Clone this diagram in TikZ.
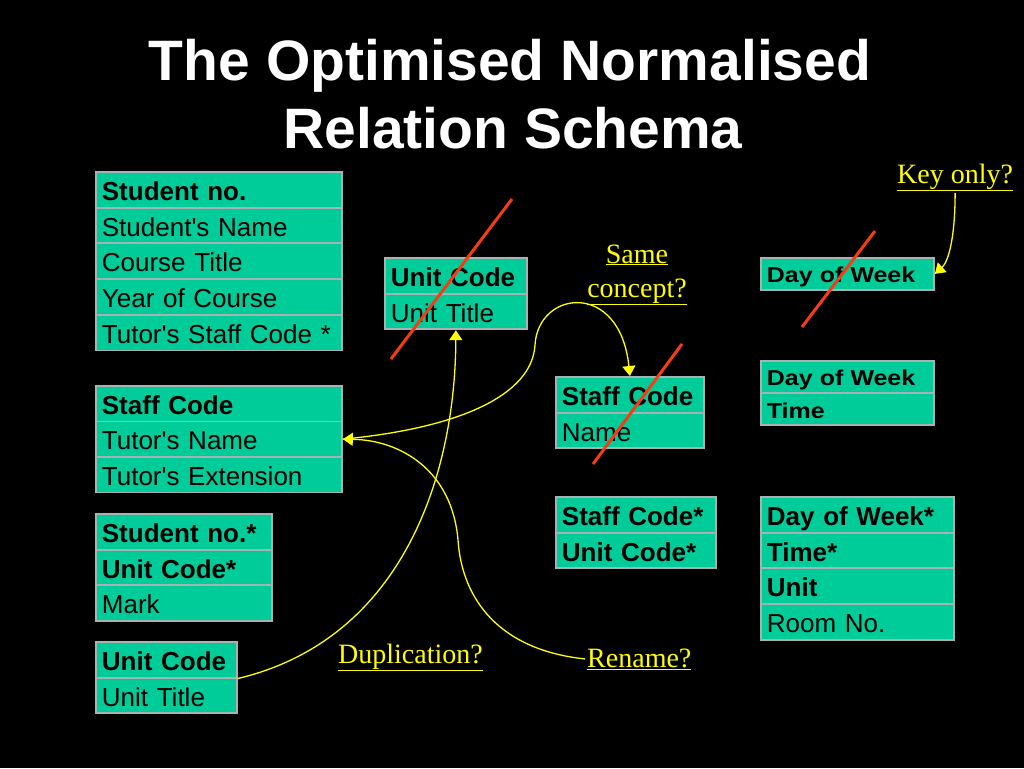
\documentclass[tikz,border=0pt]{standalone}
\usepackage{fontspec}
\setmainfont{Liberation Sans}
\newfontfamily\timesf{Liberation Serif}
\newfontfamily\dowf[FakeStretch=1.16]{Liberation Sans}
\usetikzlibrary{arrows.meta}
\newcommand\fsz[1]{\fontsize{#1}{#1}\selectfont}
\newcommand\apos{\XeTeXglyph\XeTeXcharglyph"0027\relax}
\definecolor{cellgreen}{RGB}{0,204,153}
\definecolor{cellborder}{RGB}{165,180,178}
\definecolor{strikered}{RGB}{245,60,20}
\definecolor{annoyellow}{RGB}{255,255,0}
\tikzset{
  cell/.style={rectangle, draw=cellborder, fill=cellgreen, line width=1.8pt,
    anchor=north west, inner xsep=6pt, inner ysep=0pt, text width=#1,
    minimum height=35.7pt, text height=21.3pt, text depth=0pt, align=left,
    font=\fsz{26}, text=black},
  smallcell/.style={cell=#1, minimum height=32pt, text height=18pt, font=\dowf\fsz{21.5}},
  strike/.style={draw=strikered, line width=3pt},
  anno/.style={font=\timesf\fsz{28}, text=annoyellow, inner sep=2pt},
  link/.style={draw=annoyellow, line width=1.3pt},
  tip/.style={-{Triangle[width=13pt,length=10pt]}},
  titletext/.style={font=\bfseries\fsz{57}, text=white, anchor=base},
}
\begin{document}
\begin{tikzpicture}[x=1pt,y=-1pt]
\fill[black] (0,0) rectangle (1024,768);
\useasboundingbox (0,0) rectangle (1024,768);

% title
\node[titletext] (title1) at (510,80) {The Optimised Normalised};
\node[titletext] (title2) at (513,148) {Relation Schema};

% T1 student
\node[cell=234pt] (t1a) at (95,171)   {\bfseries Student no.};
\node[cell=234pt] (t1b) at (95,206.7) {Student\apos s Name};
\node[cell=234pt] (t1c) at (95,242.4) {Course Title};
\node[cell=234pt] (t1d) at (95,278.1) {Year of Course};
\node[cell=234pt] (t1e) at (95,313.8) {Tutor\apos s Staff Code *};

% T2 staff
\node[cell=234pt, minimum height=35.5pt] (t2a) at (95,385)   {\bfseries Staff Code};
\node[cell=234pt, minimum height=35.5pt] (t2b) at (95,420.5) {Tutor\apos s Name};
\node[cell=234pt, minimum height=35.5pt] (t2c) at (95,456)   {Tutor\apos s Extension};

% T3 marks
\node[cell=164pt] (t3a) at (95,513)   {\bfseries Student no.*};
\node[cell=164pt] (t3b) at (95,548.7) {\bfseries Unit Code*};
\node[cell=164pt] (t3c) at (95,584.4) {Mark};

% T4 unit bottom
\node[cell=129pt] (t4a) at (95,641)   {\bfseries Unit Code};
\node[cell=129pt] (t4b) at (95,676.7) {Unit Title};

% T5 unit middle
\node[cell=130pt] (t5a) at (384,257)   {\bfseries Unit Code};
\node[cell=130pt] (t5b) at (384,292.7) {Unit Title};

% T6 staff crossed
\node[cell=136pt] (t6a) at (555,376)   {\bfseries Staff Code};
\node[cell=136pt] (t6b) at (555,411.7) {Name};

% T7 staff/unit
\node[cell=148pt] (t7a) at (555,496)   {\bfseries Staff Code*};
\node[cell=148pt] (t7b) at (555,531.7) {\bfseries Unit Code*};

% T8 day of week only
\node[smallcell=161pt] (t8a) at (760,257) {\bfseries Day of Week};

% T9 day/time
\node[smallcell=161pt] (t9a) at (760,360)   {\bfseries Day of Week};
\node[smallcell=161pt] (t9b) at (760,392.3) {\bfseries Time};

% T10 timetable
\node[cell=181pt] (t10a) at (760,496)   {\bfseries Day of Week*};
\node[cell=181pt] (t10b) at (760,531.7) {\bfseries Time*};
\node[cell=181pt] (t10c) at (760,567.4) {\bfseries Unit};
\node[cell=181pt] (t10d) at (760,603.1) {Room No.};

% strike-through lines
\coordinate (s1a) at (391,359); \coordinate (s1b) at (512,199);
\coordinate (s2a) at (593,464); \coordinate (s2b) at (682,344);
\coordinate (s3a) at (802,327); \coordinate (s3b) at (875,231);
\draw[strike] (s1a) -- (s1b);
\draw[strike] (s2a) -- (s2b);
\draw[strike] (s3a) -- (s3b);

% annotations
\node[anno, anchor=base] (same) at (637,263) {\underline{Same}};
\node[anno, anchor=base] (concept) at (637,297) {\underline{concept?}};
\node[anno, anchor=base west] (dup) at (336,663) {\underline{Duplication?}};
\node[anno, anchor=base west] (rename) at (585,667) {\underline{Rename?}};
\node[anno, anchor=base west] (keyonly) at (895,183) {\underline{Key only?}};

% connectors
\draw[link, tip] (t4a.south east) .. controls (400,640) and (455,480) .. (t5b.south);
\draw[link, tip] (t2b.east) .. controls (460,428) and (532,395) .. (535,345)
   .. controls (538,290) and (620,280) .. (t6a.north);
\draw[link, tip] (rename.west) .. controls (500,650) and (462,600) .. (458,540)
   .. controls (452,470) and (400,440) .. (t2b.east);
\draw[link, tip] (keyonly.south) .. controls (955,240) and (948,262) .. (t8a.east);
\end{tikzpicture}
\end{document}
